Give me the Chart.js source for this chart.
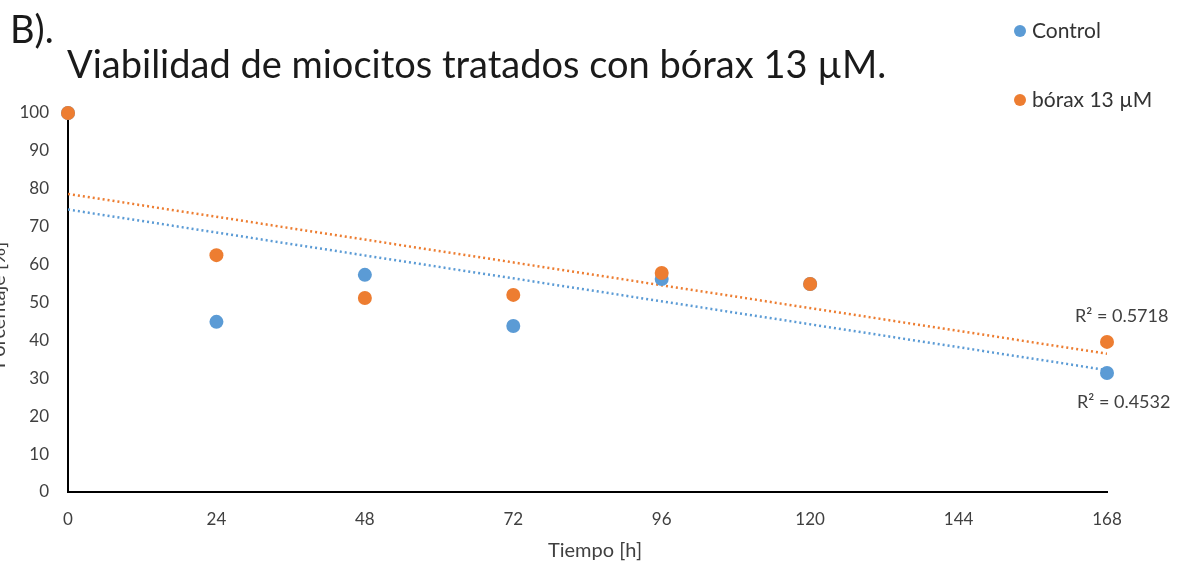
<!DOCTYPE html>
<html>
<head>
<meta charset="utf-8">
<script src="https://cdn.jsdelivr.net/npm/chart.js@4.4.1/dist/chart.umd.min.js"></script>
<style>
  html, body { margin: 0; padding: 0; background: #ffffff; }
  #wrap { position: relative; width: 1181px; height: 564px; }
</style>
</head>
<body>
<div id="wrap"><canvas id="chart" width="1181" height="564"></canvas></div>
<script>
// Hours after treatment and viability (%) of each group
const hours = [0, 24, 48, 72, 96, 120, 168];
const controlValues = [100, 44.9, 57.3, 43.8, 56.2, 54.9, 31.4];
const boraxValues = [100, 62.5, 51.2, 52.0, 57.8, 54.9, 39.6];

const seriesNames = ['Control', 'bórax 13 µM'];
const seriesColors = ['#5B9BD5', '#ED7D31'];
const r2Labels = ['R² = 0.4532', 'R² = 0.5718'];

const xTicks = [0, 24, 48, 72, 96, 120, 144, 168];
const yTicks = [0, 10, 20, 30, 40, 50, 60, 70, 80, 90, 100];

const FONT = 'Lato, "Open Sans", sans-serif';

// Least-squares linear trend over the full time range
function trend(xs, ys) {
  const n = xs.length;
  const mx = xs.reduce((a, b) => a + b, 0) / n;
  const my = ys.reduce((a, b) => a + b, 0) / n;
  let sxy = 0, sxx = 0;
  for (let i = 0; i < n; i++) {
    sxy += (xs[i] - mx) * (ys[i] - my);
    sxx += (xs[i] - mx) * (xs[i] - mx);
  }
  const slope = sxy / sxx;
  const icpt = my - slope * mx;
  const x0 = xTicks[0], x1 = xTicks[xTicks.length - 1];
  return [{ x: x0, y: icpt + slope * x0 }, { x: x1, y: icpt + slope * x1 }];
}

const pts = (xs, ys) => xs.map((x, i) => ({ x, y: ys[i] }));

// Text that sits outside the axes: headings, legend, R² notes, axis titles
const decorations = {
  id: 'decorations',
  afterDraw(chart) {
    const ctx = chart.ctx;
    const area = chart.chartArea;
    ctx.save();

    ctx.fillStyle = '#1a1a1a';
    ctx.textBaseline = 'alphabetic';
    ctx.textAlign = 'left';
    ctx.font = '38px ' + FONT;
    ctx.fillText('B).', 10, 43);
    ctx.font = '38px ' + FONT;
    ctx.fillText('Viabilidad de miocitos tratados con bórax 13 µM.', 67, 78);

    // legend
    const legendRows = [31, 100];
    ctx.font = '21px ' + FONT;
    ctx.textBaseline = 'middle';
    seriesNames.forEach((name, i) => {
      ctx.fillStyle = seriesColors[i];
      ctx.beginPath();
      ctx.arc(1020, legendRows[i], 6, 0, Math.PI * 2);
      ctx.fill();
      ctx.fillStyle = '#333333';
      ctx.fillText(name, 1032, legendRows[i]);
    });

    // R² notes next to the last points
    ctx.font = '18px ' + FONT;
    ctx.fillStyle = '#404040';
    ctx.fillText(r2Labels[1], 1075, 316);
    ctx.fillText(r2Labels[0], 1077, 402);

    // axis titles
    ctx.fillStyle = '#404040';
    ctx.font = '20px ' + FONT;
    ctx.textAlign = 'center';
    ctx.fillText('Tiempo [h]', 595, 551);
    ctx.textBaseline = 'alphabetic';
    ctx.translate(5, 305);
    ctx.rotate(-Math.PI / 2);
    ctx.fillText('Porcentaje [%]', 0, 0);
    ctx.restore();
  }
};

new Chart(document.getElementById('chart'), {
  type: 'scatter',
  data: {
    datasets: [
      {
        label: seriesNames[0],
        data: pts(hours, controlValues),
        backgroundColor: seriesColors[0],
        borderColor: seriesColors[0],
        pointRadius: 7,
        pointBorderWidth: 0,
        order: 2,
        clip: false
      },
      {
        label: seriesNames[1],
        data: pts(hours, boraxValues),
        backgroundColor: seriesColors[1],
        borderColor: seriesColors[1],
        pointRadius: 7,
        pointBorderWidth: 0,
        order: 1,
        clip: false
      },
      {
        label: 'trend ' + seriesNames[0],
        type: 'line',
        data: trend(hours, controlValues),
        borderColor: seriesColors[0],
        borderWidth: 2.5,
        borderDash: [2, 3],
        pointRadius: 0,
        order: 4
      },
      {
        label: 'trend ' + seriesNames[1],
        type: 'line',
        data: trend(hours, boraxValues),
        borderColor: seriesColors[1],
        borderWidth: 2.5,
        borderDash: [2, 3],
        pointRadius: 0,
        order: 3
      }
    ]
  },
  options: {
    responsive: false,
    animation: false,
    layout: { padding: { left: 0, top: 113, right: 74, bottom: 0 } },
    plugins: {
      legend: { display: false },
      tooltip: { enabled: false },
      title: { display: false }
    },
    scales: {
      x: {
        type: 'linear',
        min: xTicks[0],
        max: xTicks[xTicks.length - 1],
        afterBuildTicks(scale) { scale.ticks = xTicks.map(v => ({ value: v })); },
        afterFit(scale) { scale.height = 72; },
        grid: { display: false, drawTicks: false },
        border: { display: true, color: '#000000', width: 2 },
        ticks: { color: '#404040', font: { family: FONT, size: 17 }, padding: 17, maxRotation: 0 }
      },
      y: {
        min: yTicks[0],
        max: yTicks[yTicks.length - 1],
        afterBuildTicks(scale) { scale.ticks = yTicks.map(v => ({ value: v })); },
        afterFit(scale) { scale.width = 68; },
        grid: { display: false, drawTicks: false },
        border: { display: true, color: '#000000', width: 2 },
        ticks: { color: '#404040', font: { family: FONT, size: 17 }, padding: 19 }
      }
    }
  },
  plugins: [decorations]
});
</script>
</body>
</html>
